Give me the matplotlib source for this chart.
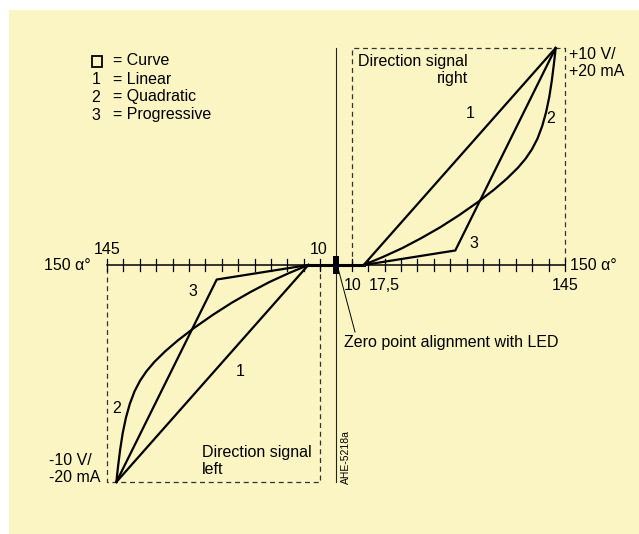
import numpy as np
import matplotlib
matplotlib.use('Agg')
import matplotlib.pyplot as plt
from matplotlib.patches import Rectangle

plt.rcParams['font.family'] = ['Liberation Sans', 'DejaVu Sans']

# characteristic curves, right branch (angle in degrees, output in V); left branch is mirrored
ang_dead = [0, 17.5]
out_dead = [0, 0]
ang_lin = [17.5, 139]
out_lin = [0, 10]
ang_prog = [17.5, 75.5, 139]
out_prog = [0, 0.67, 10]
ang_quad = [17.5, 30, 42, 54, 66, 78, 90, 100, 108, 115, 120, 124, 127.5, 130.5,
            133, 135, 136.6, 137.8, 138.6, 139]
out_quad = [0, 0.38, 0.78, 1.24, 1.74, 2.30, 2.91, 3.47, 3.97, 4.47, 4.90, 5.33, 5.82, 6.40,
            7.05, 7.75, 8.50, 9.20, 9.70, 10]

tick_first = 10
tick_last = 145
n_ticks = 14
box_out = 10

W, H = 639, 534
bg = '#FBF5C4'

fig = plt.figure(figsize=(W / 100, H / 100), dpi=100)
fig.patches.append(Rectangle((9 / W, 0), 1, (H - 10) / H, transform=fig.transFigure,
                             facecolor=bg, edgecolor='none', zorder=-5))
ax = fig.add_axes([0, 0, 1, 1])
ax.set_facecolor('none')
ax.set_xlim(-336 / 1.58, (W - 336) / 1.58)
ax.set_ylim(-(H - 265) / 21.7, 265 / 21.7)
ax.axis('off')


def fpos(x, y):
    return x / W, 1 - y / H


# axes
ticks = np.linspace(tick_first, tick_last, n_ticks)
ax.plot([-tick_last, tick_last], [0, 0], color='black', lw=1.1, zorder=2)
for t in np.concatenate([-ticks, ticks]):
    ax.plot([t, t], [-0.29, 0.29], color='black', lw=0.9, zorder=2)
ax.plot([0, 0], [-box_out, box_out], color='#222222', lw=0.8, zorder=2)

# dashed boxes
dash = dict(color='#333333', lw=0.9, ls=(0, (4, 3)), zorder=1)
ax.plot([tick_first, tick_first, tick_last, tick_last], [0, box_out, box_out, 0], **dash)
ax.plot([-tick_first, -tick_first, -tick_last, -tick_last], [0, -box_out, -box_out, 0], **dash)

# curves
for s in (1, -1):
    ax.plot(s * np.array(ang_dead), s * np.array(out_dead), color='black', lw=2.2, zorder=3)
    ax.plot(s * np.array(ang_lin), s * np.array(out_lin), color='black', lw=1.6, zorder=3)
    ax.plot(s * np.array(ang_prog), s * np.array(out_prog), color='black', lw=1.6, zorder=3)
    ax.plot(s * np.array(ang_quad), s * np.array(out_quad), color='black', lw=1.6, zorder=3,
            solid_joinstyle='round')

# LED marker
ax.add_patch(Rectangle((-1.9, -0.42), 3.8, 0.84, facecolor='black', edgecolor='none', zorder=4))

# curve numbers
fs = 11.5
ax.text(84.8, 7.0, '1', fontsize=fs, ha='center', va='center')
ax.text(136.0, 6.73, '2', fontsize=fs, ha='center', va='center')
ax.text(87.3, 1.01, '3', fontsize=fs, ha='center', va='center')
ax.text(-60.8, -4.92, '1', fontsize=fs, ha='center', va='center')
ax.text(-138.6, -6.59, '2', fontsize=fs, ha='center', va='center')
ax.text(-90.5, -1.24, '3', fontsize=fs, ha='center', va='center')

# legend
legend_sym = ['', '1', '2', '3']
legend_txt = ['= Curve', '= Linear', '= Quadratic', '= Progressive']
fig.patches.append(Rectangle((91.5 / W, 1 - 66.5 / H), 10 / W, 10 / H, transform=fig.transFigure,
                             facecolor='none', edgecolor='black', lw=1.3))
for i, (sym, txt) in enumerate(zip(legend_sym, legend_txt)):
    y = 61 + i * 18
    fig.text(*fpos(96, y), sym, fontsize=fs, ha='center', va='center')
    fig.text(*fpos(113, y), txt, fontsize=fs, ha='left', va='center')

# labels
fig.text(*fpos(468, 70), 'Direction signal\nright', fontsize=fs, ha='right', va='center',
         multialignment='right', linespacing=1.1)
fig.text(*fpos(569, 63), '+10 V/\n+20 mA', fontsize=fs, ha='left', va='center', linespacing=1.1)
fig.text(*fpos(202, 461), 'Direction signal\nleft', fontsize=fs, ha='left', va='center',
         multialignment='left', linespacing=1.1)
fig.text(*fpos(100, 469), '-10 V/\n-20 mA', fontsize=fs, ha='right', va='center',
         multialignment='left', linespacing=1.1)

fig.text(*fpos(106.7, 250), '145', fontsize=fs, ha='center', va='center')
fig.text(*fpos(319, 250), '10', fontsize=fs, ha='center', va='center')
fig.text(*fpos(91, 266), '150 \u03b1\u00b0', fontsize=fs, ha='right', va='center')
fig.text(*fpos(353, 285), '10', fontsize=fs, ha='center', va='center')
fig.text(*fpos(369, 285), '17,5', fontsize=fs, ha='left', va='center')
fig.text(*fpos(565, 285), '145', fontsize=fs, ha='center', va='center')
fig.text(*fpos(570, 266), '150 \u03b1\u00b0', fontsize=fs, ha='left', va='center')

# zero point callout
x0, y0 = fpos(338, 268)
x1, y1 = fpos(355, 332)
fig.add_artist(plt.Line2D([x0, x1], [y0, y1], color='black', lw=0.7, transform=fig.transFigure))
fig.text(*fpos(344, 342), 'Zero point alignment with LED', fontsize=fs, ha='left', va='center')

fig.text(*fpos(346, 457), 'AHE-5218a', fontsize=7.5, ha='center', va='center', rotation=90)

plt.savefig('out.png', dpi=100)
